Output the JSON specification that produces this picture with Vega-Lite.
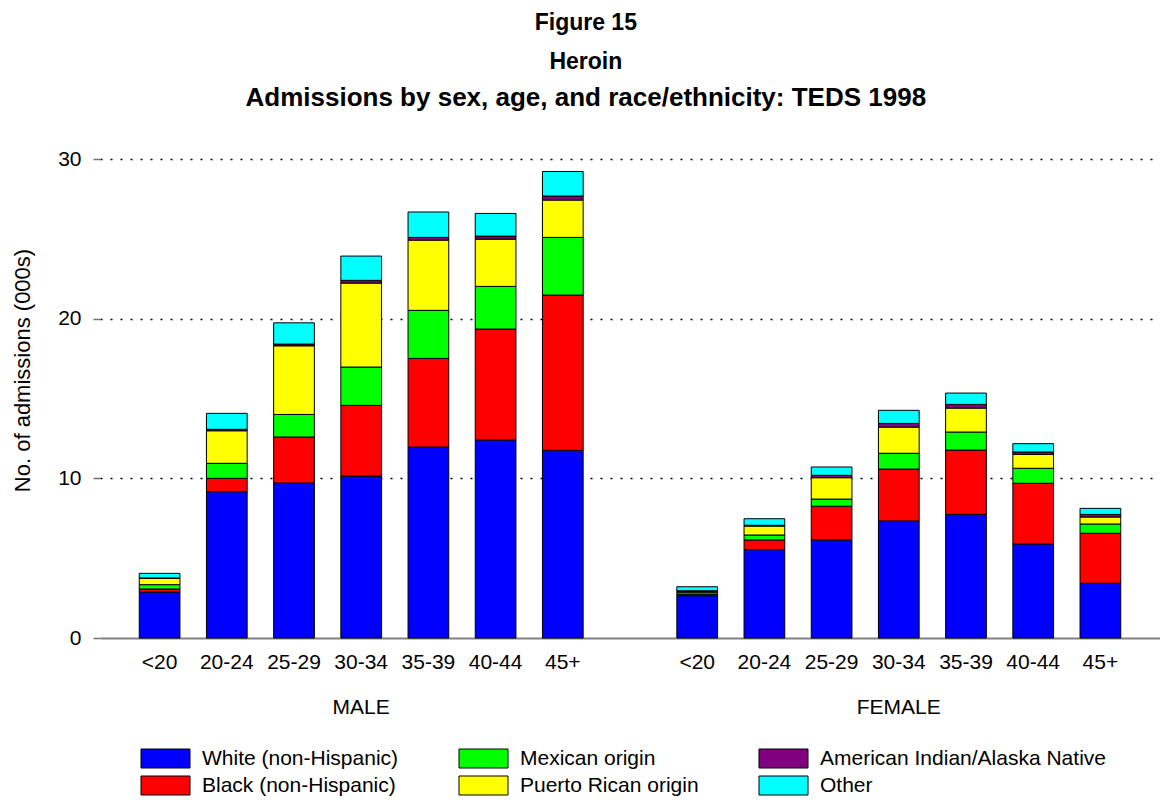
{
  "$schema": "https://vega.github.io/schema/vega-lite/v6.json",
  "autosize": {"type": "none"},
  "width": 1060,
  "height": 479,
  "padding": {"left": 100, "top": 159, "right": 0, "bottom": 168},
  "background": "white",
  "config": {
    "font": "Liberation Sans",
    "view": {"stroke": null}
  },
  "title": {
    "text": ["Figure 15", "Heroin"],
    "subtitle": "Admissions by sex, age, and race/ethnicity: TEDS 1998",
    "font": "Liberation Sans",
    "fontSize": 23,
    "fontWeight": "bold",
    "lineHeight": 39,
    "color": "black",
    "subtitleFont": "Liberation Sans",
    "subtitleFontSize": 26,
    "subtitleFontWeight": "bold",
    "subtitleColor": "black",
    "subtitlePadding": 11,
    "anchor": "middle",
    "frame": "bounds",
    "offset": 37
  },
  "data": {
    "values": [
      {"bar": "MALE|<20", "race": "White (non-Hispanic)", "n": 2.88},
      {"bar": "MALE|<20", "race": "Black (non-Hispanic)", "n": 0.19},
      {"bar": "MALE|<20", "race": "Mexican origin", "n": 0.27},
      {"bar": "MALE|<20", "race": "Puerto Rican origin", "n": 0.40},
      {"bar": "MALE|<20", "race": "American Indian/Alaska Native", "n": 0.02},
      {"bar": "MALE|<20", "race": "Other", "n": 0.29},
      {"bar": "MALE|20-24", "race": "White (non-Hispanic)", "n": 9.16},
      {"bar": "MALE|20-24", "race": "Black (non-Hispanic)", "n": 0.84},
      {"bar": "MALE|20-24", "race": "Mexican origin", "n": 0.94},
      {"bar": "MALE|20-24", "race": "Puerto Rican origin", "n": 2.04},
      {"bar": "MALE|20-24", "race": "American Indian/Alaska Native", "n": 0.09},
      {"bar": "MALE|20-24", "race": "Other", "n": 1.00},
      {"bar": "MALE|25-29", "race": "White (non-Hispanic)", "n": 9.71},
      {"bar": "MALE|25-29", "race": "Black (non-Hispanic)", "n": 2.88},
      {"bar": "MALE|25-29", "race": "Mexican origin", "n": 1.41},
      {"bar": "MALE|25-29", "race": "Puerto Rican origin", "n": 4.30},
      {"bar": "MALE|25-29", "race": "American Indian/Alaska Native", "n": 0.11},
      {"bar": "MALE|25-29", "race": "Other", "n": 1.33},
      {"bar": "MALE|30-34", "race": "White (non-Hispanic)", "n": 10.14},
      {"bar": "MALE|30-34", "race": "Black (non-Hispanic)", "n": 4.43},
      {"bar": "MALE|30-34", "race": "Mexican origin", "n": 2.40},
      {"bar": "MALE|30-34", "race": "Puerto Rican origin", "n": 5.26},
      {"bar": "MALE|30-34", "race": "American Indian/Alaska Native", "n": 0.17},
      {"bar": "MALE|30-34", "race": "Other", "n": 1.52},
      {"bar": "MALE|35-39", "race": "White (non-Hispanic)", "n": 11.96},
      {"bar": "MALE|35-39", "race": "Black (non-Hispanic)", "n": 5.55},
      {"bar": "MALE|35-39", "race": "Mexican origin", "n": 3.01},
      {"bar": "MALE|35-39", "race": "Puerto Rican origin", "n": 4.40},
      {"bar": "MALE|35-39", "race": "American Indian/Alaska Native", "n": 0.17},
      {"bar": "MALE|35-39", "race": "Other", "n": 1.59},
      {"bar": "MALE|40-44", "race": "White (non-Hispanic)", "n": 12.40},
      {"bar": "MALE|40-44", "race": "Black (non-Hispanic)", "n": 6.95},
      {"bar": "MALE|40-44", "race": "Mexican origin", "n": 2.67},
      {"bar": "MALE|40-44", "race": "Puerto Rican origin", "n": 2.96},
      {"bar": "MALE|40-44", "race": "American Indian/Alaska Native", "n": 0.19},
      {"bar": "MALE|40-44", "race": "Other", "n": 1.42},
      {"bar": "MALE|45+", "race": "White (non-Hispanic)", "n": 11.75},
      {"bar": "MALE|45+", "race": "Black (non-Hispanic)", "n": 9.73},
      {"bar": "MALE|45+", "race": "Mexican origin", "n": 3.61},
      {"bar": "MALE|45+", "race": "Puerto Rican origin", "n": 2.34},
      {"bar": "MALE|45+", "race": "American Indian/Alaska Native", "n": 0.25},
      {"bar": "MALE|45+", "race": "Other", "n": 1.54},
      {"bar": "FEMALE|<20", "race": "White (non-Hispanic)", "n": 2.65},
      {"bar": "FEMALE|<20", "race": "Black (non-Hispanic)", "n": 0.09},
      {"bar": "FEMALE|<20", "race": "Mexican origin", "n": 0.10},
      {"bar": "FEMALE|<20", "race": "Puerto Rican origin", "n": 0.08},
      {"bar": "FEMALE|<20", "race": "American Indian/Alaska Native", "n": 0.04},
      {"bar": "FEMALE|<20", "race": "Other", "n": 0.25},
      {"bar": "FEMALE|20-24", "race": "White (non-Hispanic)", "n": 5.53},
      {"bar": "FEMALE|20-24", "race": "Black (non-Hispanic)", "n": 0.61},
      {"bar": "FEMALE|20-24", "race": "Mexican origin", "n": 0.31},
      {"bar": "FEMALE|20-24", "race": "Puerto Rican origin", "n": 0.56},
      {"bar": "FEMALE|20-24", "race": "American Indian/Alaska Native", "n": 0.05},
      {"bar": "FEMALE|20-24", "race": "Other", "n": 0.41},
      {"bar": "FEMALE|25-29", "race": "White (non-Hispanic)", "n": 6.14},
      {"bar": "FEMALE|25-29", "race": "Black (non-Hispanic)", "n": 2.11},
      {"bar": "FEMALE|25-29", "race": "Mexican origin", "n": 0.45},
      {"bar": "FEMALE|25-29", "race": "Puerto Rican origin", "n": 1.34},
      {"bar": "FEMALE|25-29", "race": "American Indian/Alaska Native", "n": 0.15},
      {"bar": "FEMALE|25-29", "race": "Other", "n": 0.52},
      {"bar": "FEMALE|30-34", "race": "White (non-Hispanic)", "n": 7.33},
      {"bar": "FEMALE|30-34", "race": "Black (non-Hispanic)", "n": 3.25},
      {"bar": "FEMALE|30-34", "race": "Mexican origin", "n": 0.99},
      {"bar": "FEMALE|30-34", "race": "Puerto Rican origin", "n": 1.64},
      {"bar": "FEMALE|30-34", "race": "American Indian/Alaska Native", "n": 0.23},
      {"bar": "FEMALE|30-34", "race": "Other", "n": 0.82},
      {"bar": "FEMALE|35-39", "race": "White (non-Hispanic)", "n": 7.74},
      {"bar": "FEMALE|35-39", "race": "Black (non-Hispanic)", "n": 4.03},
      {"bar": "FEMALE|35-39", "race": "Mexican origin", "n": 1.13},
      {"bar": "FEMALE|35-39", "race": "Puerto Rican origin", "n": 1.50},
      {"bar": "FEMALE|35-39", "race": "American Indian/Alaska Native", "n": 0.23},
      {"bar": "FEMALE|35-39", "race": "Other", "n": 0.71},
      {"bar": "FEMALE|40-44", "race": "White (non-Hispanic)", "n": 5.89},
      {"bar": "FEMALE|40-44", "race": "Black (non-Hispanic)", "n": 3.80},
      {"bar": "FEMALE|40-44", "race": "Mexican origin", "n": 0.94},
      {"bar": "FEMALE|40-44", "race": "Puerto Rican origin", "n": 0.87},
      {"bar": "FEMALE|40-44", "race": "American Indian/Alaska Native", "n": 0.15},
      {"bar": "FEMALE|40-44", "race": "Other", "n": 0.52},
      {"bar": "FEMALE|45+", "race": "White (non-Hispanic)", "n": 3.43},
      {"bar": "FEMALE|45+", "race": "Black (non-Hispanic)", "n": 3.13},
      {"bar": "FEMALE|45+", "race": "Mexican origin", "n": 0.58},
      {"bar": "FEMALE|45+", "race": "Puerto Rican origin", "n": 0.44},
      {"bar": "FEMALE|45+", "race": "American Indian/Alaska Native", "n": 0.16},
      {"bar": "FEMALE|45+", "race": "Other", "n": 0.38}
    ]
  },
  "transform": [
    {"calculate": "indexof(['White (non-Hispanic)','Black (non-Hispanic)','Mexican origin','Puerto Rican origin','American Indian/Alaska Native','Other'], datum.race)", "as": "stackRank"}
  ],
  "mark": {"type": "bar", "stroke": "black", "strokeWidth": 1},
  "encoding": {
    "x": {
      "field": "bar",
      "type": "nominal",
      "scale": {
        "domain": ["MALE|<20", "MALE|20-24", "MALE|25-29", "MALE|30-34", "MALE|35-39", "MALE|40-44", "MALE|45+", "|", "FEMALE|<20", "FEMALE|20-24", "FEMALE|25-29", "FEMALE|30-34", "FEMALE|35-39", "FEMALE|40-44", "FEMALE|45+"],
        "paddingInner": 0.394,
        "paddingOuter": 0.584
      },
      "axis": {
        "title": null,
        "labelAngle": 0,
        "labelFont": "Liberation Sans",
        "labelFontSize": 21,
        "labelColor": "black",
        "labelLineHeight": 45,
        "labelPadding": 13,
        "labelExpr": "split(datum.value, '|')[1] == '30-34' ? [split(datum.value, '|')[1], split(datum.value, '|')[0]] : split(datum.value, '|')[1]",
        "ticks": false,
        "domainColor": "#808080",
        "domainWidth": 2,
        "grid": false
      }
    },
    "y": {
      "field": "n",
      "type": "quantitative",
      "stack": "zero",
      "scale": {"domain": [0, 30], "nice": false},
      "axis": {
        "title": "No. of admissions (000s)",
        "titleFont": "Liberation Sans",
        "titleFontSize": 22,
        "titleFontWeight": "normal",
        "titleColor": "black",
        "titlePadding": 23,
        "titleY": 211,
        "values": [0, 10, 20, 30],
        "labelFont": "Liberation Sans",
        "labelFontSize": 21,
        "labelColor": "black",
        "labelPadding": 12,
        "domain": false,
        "tickSize": 7,
        "tickColor": "#707070",
        "tickWidth": 1.5,
        "grid": true,
        "gridColor": {"condition": {"test": "datum.value === 0", "value": "transparent"}, "value": "black"},
        "gridDash": [2, 8],
        "gridWidth": 1.5
      }
    },
    "color": {
      "field": "race",
      "type": "nominal",
      "scale": {
        "domain": ["White (non-Hispanic)", "Mexican origin", "American Indian/Alaska Native", "Black (non-Hispanic)", "Puerto Rican origin", "Other"],
        "range": ["#0000FF", "#00FF00", "#800080", "#FF0000", "#FFFF00", "#00FFFF"]
      },
      "legend": {
        "title": null,
        "orient": "none",
        "legendX": 55,
        "legendY": 589,
        "direction": "horizontal",
        "columns": 3,
        "columnPadding": 57,
        "rowPadding": 4,
        "symbolType": "M-2.58,-1H2.58V1H-2.58Z",
        "symbolSize": 361,
        "symbolStrokeColor": "black",
        "symbolStrokeWidth": 1,
        "symbolOpacity": 1,
        "labelFont": "Liberation Sans",
        "labelFontSize": 21,
        "labelColor": "black",
        "labelOffset": 26,
        "labelLimit": 400
      }
    },
    "order": {"field": "stackRank", "type": "quantitative", "sort": "ascending"}
  }
}
